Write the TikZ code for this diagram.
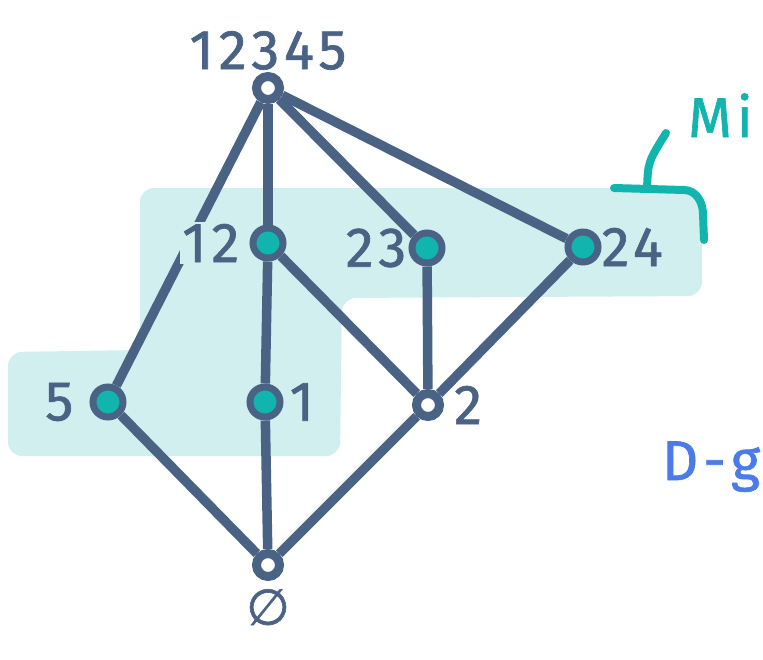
\documentclass[tikz,border=0pt]{standalone}
\usepackage{fontspec}
\setmainfont{Fira Sans}[LetterSpace=9, FakeBold=1.2]
\newfontfamily\djv{DejaVu Sans}[FakeBold=1.2]
\usetikzlibrary{positioning}
\definecolor{ink}{HTML}{4A6385}
\definecolor{mint}{HTML}{12B5AE}
\definecolor{haze}{HTML}{D0EFEE}
\definecolor{azure}{HTML}{4A7BE8}
\tikzset{
    pt/.style={circle, draw=ink, line width=9pt, minimum size=23pt, inner sep=0pt, fill=white},
    hit/.style={pt, fill=mint, line width=7pt, minimum size=30pt},
    lbl/.style={text=ink, inner sep=2pt, font=\fontsize{56}{56}\selectfont},
    edge/.style={ink, line width=9.5pt}
}
\begin{document}
\begin{tikzpicture}[x=1pt, y=-1pt]
\useasboundingbox (0,0) rectangle (763,659);

% shaded part
\fill[haze, rounded corners=14pt] (140,188) -- (702,188) -- (702,296) -- (342,298)
    -- (340,456) -- (8,456) -- (8,352) -- (140,350) -- cycle;

% lattice points
\node[pt]  (top) at (268,88)  {};
\node[hit] (n12) at (268,243) {};
\node[hit] (n23) at (427,248) {};
\node[hit] (n24) at (583,247) {};
\node[hit] (n5)  at (108,402) {};
\node[hit] (n1)  at (265,402) {};
\node[pt]  (n2)  at (428,405) {};
\node[pt]  (bot) at (268,565) {};

\foreach \a/\b in {top/n5, top/n12, top/n23, top/n24, n12/n1, n12/n2, n23/n2, n24/n2, n5/bot, n1/bot, n2/bot}
    \draw[edge] (\a) -- (\b);

\node[lbl, above=0pt of top] (l12345) {12345};
\node[lbl, left=8pt of n12, fill=haze] (l12) {12};
\node[lbl, left=0pt of n23] (l23) {23};
\node[lbl, right=-2pt of n24] (l24) {24};
\node[lbl, left=14pt of n5] (l5) {5};
\node[lbl, right=4pt of n1] (l1) {1};
\node[lbl, right=8pt of n2] (l2) {2};
\node[lbl, below=6pt of bot, font=\djv\fontsize{50}{50}\selectfont] (lbot) {∅};

% brace to the side note
\draw[mint, line width=8pt, line cap=round] (614,188) -- (684,190) to[out=0, in=90] (703,214) -- (704,240);
\draw[mint, line width=8pt, line cap=round] (647,189) .. controls (648,162) .. (666,133);
\node[lbl, text=mint, anchor=base west] (mi) at (686,137) {Mi};
\node[lbl, text=azure, anchor=base west] (dg) at (660,480) {D-g};
\end{tikzpicture}
\end{document}
